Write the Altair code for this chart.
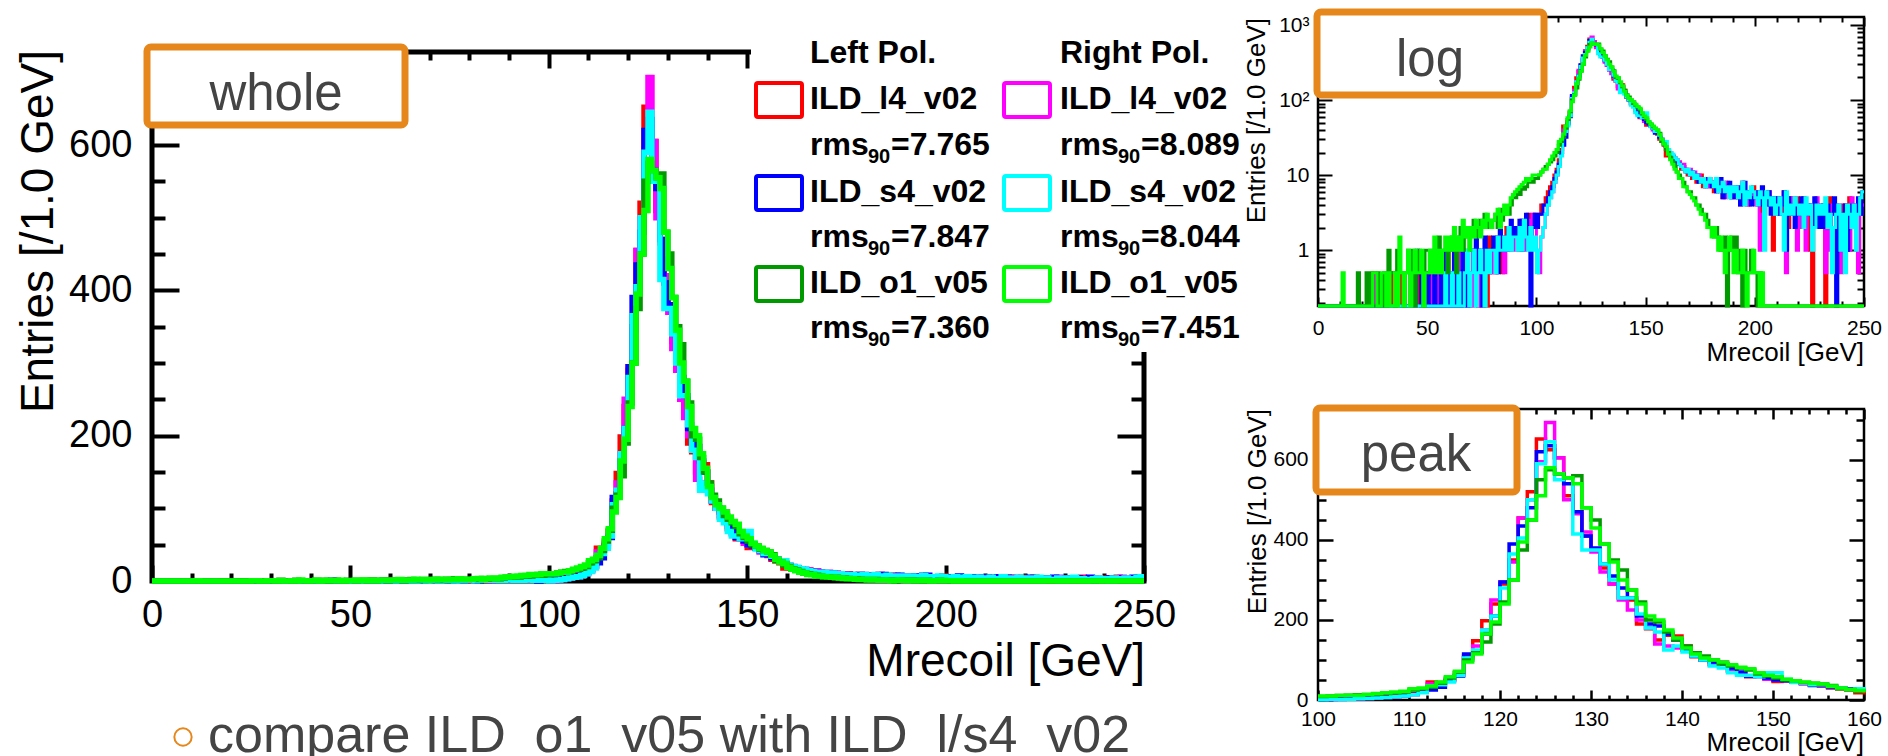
import altair as alt
import pandas as pd

# ---------------------------------------------------------------- data
# 1 GeV bins from 0 to 250 GeV; entries per bin
bin_edges = list(range(0, 251))

l4_left = [
    0, 0, 0, 0, 0, 0, 0, 0, 0, 0,
    0, 0, 0, 0, 0, 0, 0, 0, 0, 0,
    0, 0, 0, 0, 0, 0.5, 0, 0, 0, 0,
    0, 0, 0, 0, 0.5, 0, 0, 0.5, 0, 0,
    0, 0, 0, 0.5, 0, 0, 0.5, 0, 0, 0.5,
    0, 0.5, 0, 0, 0.5, 0, 0.5, 0, 0, 1,
    0, 0.5, 0, 1, 0, 0.5, 0, 1, 0.5, 0,
    0.5, 1, 0.5, 0, 1, 0.5, 1, 0, 1.5, 0.5,
    1, 0.5, 1.5, 1, 0.5, 1, 2, 1, 1.5, 2,
    1.5, 2, 1, 2.5, 2, 1.5, 3, 2, 2.5, 3,
    3, 3, 4, 4, 5, 6, 7, 8, 10, 12,
    16, 22, 45, 44, 52, 68, 110, 148, 198, 240,
    290, 350, 455, 520, 652, 625, 605, 510, 470, 410,
    375, 330, 290, 255, 250, 190, 178, 150, 162, 160,
    135, 108, 100, 88, 92, 72, 68, 58, 60, 55,
    46, 48, 46, 42, 38, 35, 30, 28, 25, 18,
    20, 18, 17, 16, 14, 15, 12, 13, 11, 10,
    11, 9, 10, 8, 9, 10, 7, 8, 9, 7,
    8, 6, 7, 9, 6, 5, 8, 6, 7, 5,
    6, 7, 5, 6, 8, 5, 4, 6, 5, 7,
    5, 4, 6, 2, 3, 5, 6, 4, 1, 3,
    4, 5, 3, 6, 1, 2, 5, 4, 3, 5,
    4, 3, 5, 2, 4, 1, 0, 3, 4, 2,
    3, 4, 0, 3, 5, 2, 1, 4, 2, 3,
    4, 2, 1, 5, 3, 2, 4, 1, 5, 4,
]

l4_right = [
    0, 0, 0, 0, 0, 0, 0, 0, 0, 0,
    0, 0, 0, 0, 0, 0, 0, 0, 0, 0,
    0, 0, 0, 0, 0, 0, 0.5, 0, 0, 0,
    0, 0, 0, 0, 0, 0, 0, 0, 0, 0,
    0, 0, 0.5, 0, 0, 0, 0, 0.5, 0, 0,
    0, 0, 0.5, 0, 0, 0.5, 0, 0, 0.5, 0,
    0.5, 0, 0, 0.5, 0, 1, 0, 0.5, 0, 0.5,
    0, 1, 0.5, 1, 0, 0.5, 1, 0.5, 1, 0.5,
    1, 0.5, 1.5, 1, 1, 0.5, 1.5, 2, 1, 2,
    1, 2, 1.5, 2.5, 1, 2, 2.5, 1.5, 3, 2,
    1, 0.5, 1.5, 2, 3, 4, 5, 6, 8, 10,
    14, 20, 40, 42, 50, 62, 105, 135, 175, 250,
    295, 345, 455, 500, 595, 693, 605, 500, 465, 420,
    370, 320, 290, 250, 225, 200, 180, 140, 135, 130,
    130, 110, 100, 90, 95, 75, 65, 60, 58, 52,
    50, 48, 45, 40, 38, 36, 32, 30, 28, 24,
    22, 20, 18, 17, 16, 15, 13, 14, 12, 11,
    12, 10, 11, 9, 10, 8, 9, 8, 7, 9,
    7, 8, 6, 9, 7, 6, 5, 8, 6, 7,
    5, 7, 6, 4, 8, 5, 6, 4, 5, 6,
    4, 6, 1, 3, 5, 4, 6, 4, 3, 5,
    4, 3, 5, 4, 0.5, 4, 3, 5, 4, 1,
    4, 2, 3, 1, 3, 4, 2, 3, 5, 2,
    3, 4, 0.5, 3, 1, 4, 3, 2, 4, 0.5,
    2, 4, 3, 1, 5, 3, 4, 0.5, 3, 4,
]

s4_left = [
    0, 0, 0, 0, 0, 0, 0, 0, 0, 0,
    0, 0, 0, 0, 0, 0, 0, 0, 0, 0,
    0, 0, 0, 0, 0, 0, 0, 0, 0, 0,
    0, 0, 0, 0, 0, 0, 0, 0, 0, 0,
    0, 0, 0, 0, 0, 1, 0.5, 0, 0, 0,
    0.5, 0, 0, 0.5, 0, 0, 0.5, 0, 1, 0,
    0.5, 0, 1, 0, 0.5, 0, 1, 0.5, 0, 1,
    1, 0.5, 1.5, 0.5, 1, 0, 1.5, 1, 0.5, 1,
    1.5, 1, 0.5, 2, 1, 1.5, 1, 2, 2.5, 1.5,
    2, 1.5, 2.5, 1, 2, 3, 1.5, 0, 2, 3,
    2, 3, 3, 4, 4, 5, 6, 7, 9, 11,
    14, 20, 25, 32, 48, 60, 115, 120, 165, 210,
    295, 390, 435, 480, 620, 635, 565, 540, 470, 410,
    380, 340, 310, 280, 255, 210, 190, 185, 165, 150,
    125, 110, 100, 95, 90, 80, 70, 60, 62, 55,
    50, 48, 45, 42, 36, 36, 32, 30, 28, 24,
    21, 19, 18, 16, 15, 14, 13, 12, 12, 11,
    10, 11, 9, 10, 8, 9, 8, 7, 9, 8,
    7, 8, 6, 7, 9, 5, 7, 6, 8, 5,
    6, 5, 7, 4, 6, 8, 5, 6, 4, 5,
    6, 5, 4, 7, 5, 4, 6, 3, 5, 4,
    5, 3, 4, 6, 1, 5, 3, 4, 2, 4,
    3, 5, 2, 4, 3, 4, 2, 5, 3, 2,
    4, 2, 3, 4, 2, 3, 5, 0, 3, 2,
    3, 4, 1, 3, 4, 2, 3, 5, 3, 6,
]

s4_right = [
    0, 0, 0, 0, 0, 0, 0, 0, 0, 0,
    0, 0, 0, 0, 0, 0, 0, 0, 0, 0,
    0, 0, 0, 0, 0, 0, 0, 0, 0, 0,
    0, 0, 0, 0, 0, 0, 0, 0, 0, 0,
    0, 0, 0, 0, 0, 0, 0, 0, 0, 0,
    0, 0, 0, 0, 0, 0, 0, 0, 0.5, 0,
    0, 0.5, 0, 0, 0.5, 0, 0, 0.5, 1, 0,
    0.5, 1, 0, 0.5, 1, 0.5, 0, 1, 0.5, 1,
    1, 0.5, 1.5, 1, 1, 1.5, 1, 2, 1, 1.5,
    1.5, 1, 2, 1, 2.5, 1.5, 1, 2, 1, 1.5,
    0.5, 1, 1.5, 2, 3, 4, 5, 6, 8, 10,
    13, 18, 35, 38, 45, 62, 105, 125, 175, 210,
    280, 365, 405, 500, 590, 645, 550, 555, 415, 375,
    375, 340, 300, 255, 255, 215, 180, 170, 125, 135,
    120, 110, 100, 85, 80, 68, 62, 62, 58, 68,
    68, 52, 44, 42, 38, 38, 34, 30, 26, 28,
    22, 20, 19, 17, 16, 14, 13, 12, 11, 12,
    10, 11, 9, 10, 9, 8, 9, 7, 8, 9,
    8, 7, 9, 6, 7, 8, 6, 7, 5, 7,
    6, 7, 5, 6, 8, 4, 6, 5, 7, 6,
    5, 4, 6, 5, 1, 6, 5, 4, 5, 3,
    4, 5, 3, 1, 6, 3, 4, 3, 5, 4,
    3, 4, 2, 5, 3, 4, 1, 2, 4, 3,
    4, 3, 5, 2, 3, 0.5, 2, 3, 4, 1,
    3, 0.5, 4, 3, 2, 4, 1, 3, 5, 6,
]

o1_left = [
    0, 0, 0, 0, 0, 0, 0, 0, 0, 0,
    0, 0, 0, 0, 0, 0, 0, 0, 0.5, 0,
    0, 0, 0.5, 0, 0.5, 0, 0, 0.5, 0, 0,
    0.5, 0, 1, 0.5, 0.5, 0, 1, 0.5, 0.5, 0,
    0.5, 1, 0.5, 1, 0, 0.5, 1, 0.5, 0, 1,
    1, 0.5, 1, 1, 0.5, 1.5, 0.5, 1, 1, 0.5,
    1, 1.5, 1, 0.5, 1.5, 2, 1, 1.5, 2, 1.5,
    2, 2.5, 1.5, 2, 2.5, 2, 3, 2, 2.5, 2,
    2.5, 3, 2, 3.5, 2.5, 3, 3.5, 3, 4, 5,
    5, 6, 5.5, 7, 6.5, 7, 8, 9, 8, 9,
    9, 10, 11, 12, 13, 14, 15, 16, 18, 20,
    25, 28, 32, 42, 55, 70, 100, 118, 145, 190,
    245, 300, 375, 450, 550, 575, 565, 555, 560, 480,
    450, 390, 350, 325, 275, 245, 200, 195, 170, 150,
    135, 118, 110, 100, 90, 85, 80, 75, 65, 60,
    55, 50, 48, 44, 42, 40, 36, 28, 26, 22,
    20, 17, 15, 13, 11, 10, 9, 8, 7, 6,
    6, 5, 5, 4, 4, 3.5, 3, 3, 2.5, 2,
    2, 1.5, 2, 1.5, 1, 1, 1.5, 0, 1, 1.5,
    1, 1.5, 0.5, 1, 0, 1, 0.5, 0.5, 1, 0.5,
    0.5, 0, 0.5, 0, 0, 0, 0, 0, 0, 0,
    0, 0, 0, 0, 0, 0, 0, 0, 0, 0,
    0, 0, 0, 0, 0, 0, 0, 0, 0, 0,
    0, 0, 0, 0, 0, 0, 0, 0, 0, 0,
    0, 0, 0, 0, 0, 0, 0, 0, 0, 0,
]

o1_right = [
    0, 0, 0, 0, 0, 0, 0, 0, 0, 0,
    0, 0.5, 0, 0, 0, 0, 0, 0, 0, 0,
    0, 0, 0, 0, 0, 0.5, 0.5, 0, 0, 0.5,
    0.5, 0, 0.5, 0, 0, 0.5, 0, 1.5, 0.5, 0,
    0.5, 1, 0, 0.5, 1, 0.5, 0.5, 1, 0, 0.5,
    0.5, 1, 0.5, 1.5, 0.5, 1, 0.5, 1, 1.5, 1,
    1.5, 1, 2, 1, 1.5, 1, 2.5, 1.5, 2, 1,
    2, 1.5, 2.5, 2, 1.5, 2.5, 2, 3, 2.5, 2,
    2.5, 3, 3.5, 2, 3, 4, 3, 4, 5, 5.5,
    6, 6.5, 7, 7.5, 8, 9, 8.5, 9, 10, 10,
    10, 10, 11, 12, 12, 14, 16, 18, 20, 22,
    28, 30, 35, 45, 58, 72, 95, 115, 165, 195,
    240, 300, 395, 450, 510, 580, 565, 555, 540, 480,
    430, 390, 345, 300, 275, 240, 210, 200, 175, 155,
    130, 115, 105, 100, 95, 88, 82, 78, 68, 62,
    58, 52, 48, 45, 42, 40, 35, 30, 26, 24,
    19, 16, 14, 12, 11, 9, 9, 7, 7, 6,
    5.5, 5, 4.5, 4, 3.5, 3, 3, 2.5, 2, 2,
    1.5, 2, 1.5, 1, 1.5, 1, 0.5, 1, 1.5, 1,
    0.5, 1, 0.5, 0.5, 1, 0.5, 0, 0.5, 0.5, 1,
    0.5, 0.5, 0, 0.5, 0, 0, 0, 0, 0, 0,
    0, 0, 0, 0, 0, 0, 0, 0, 0, 0,
    0, 0, 0, 0, 0, 0, 0, 0, 0, 0,
    0, 0, 0, 0, 0, 0, 0, 0, 0, 0,
    0, 0, 0, 0, 0, 0, 0, 0, 0, 0,
]

# legend text
legend_names = ["ILD_l4_v02", "ILD_s4_v02", "ILD_o1_v05"]
rms_left = ["7.765", "7.847", "7.360"]
rms_right = ["8.089", "8.044", "7.451"]

# axis tick values
main_x_major = [0, 50, 100, 150, 200, 250]
main_x_minor = [v for v in range(0, 251, 10) if v % 50]
main_y_major = [0, 200, 400, 600]
main_y_minor = [v for v in range(0, 729, 50) if v % 200]
peak_x_major = [100, 110, 120, 130, 140, 150, 160]
peak_x_minor = [v for v in range(100, 161, 2) if v % 10]
log_y_major = [1, 10, 100, 1000]
log_y_minor = [m * d for d in (0.1, 1, 10, 100) for m in range(2, 10)]

# ---------------------------------------------------------------- style / layout
W, H = 1888, 756
SANS = "Liberation Sans"
ORANGE = "#E6871C"
GRAY = "#444444"

SERIES = [  # draw order
    ("l4_left", l4_left, "#ff0000"),
    ("l4_right", l4_right, "#ff00ff"),
    ("s4_left", s4_left, "#0000ff"),
    ("s4_right", s4_right, "#00ffff"),
    ("o1_left", o1_left, "#009900"),
    ("o1_right", o1_right, "#00ff00"),
]
LEG_COLORS_LEFT = ["#ff0000", "#0000ff", "#009900"]
LEG_COLORS_RIGHT = ["#ff00ff", "#00ffff", "#00ff00"]

MAIN = dict(px=(152, 1144), py=(581, 52), xdom=[0, 250], ydom=[0, 728], ytype="linear",
            lw=5.5, fw=5, tw=4, tx=(16, 8), ty=(27, 13), fs=38, xpad=15, ypad=20,
            xmaj=main_x_major, xmin=main_x_minor, ymaj=main_y_major, ymin=main_y_minor)
LOG = dict(px=(1318, 1864), py=(306, 17), xdom=[0, 250], ydom=[0.18, 1280], ytype="log",
           lw=3, fw=2.5, tw=2, tx=(9, 5), ty=(14, 7), fs=21, xpad=11, ypad=9,
           xmaj=main_x_major, xmin=main_x_minor, ymaj=log_y_major, ymin=log_y_minor,
           ylabel="datum.value >= 1000 ? '10³' : datum.value >= 100 ? '10²' : datum.value >= 10 ? '10' : '1'")
PEAK = dict(px=(1318, 1864), py=(700, 409), xdom=[100, 160], ydom=[0, 727], ytype="linear",
            lw=3.5, fw=2.5, tw=2.5, tx=(10, 5), ty=(15, 8), fs=21, xpad=8, ypad=10,
            xmaj=peak_x_major, xmin=peak_x_minor, ymaj=main_y_major, ymin=main_y_minor)

ONE = alt.Data(values=[{"a": 1}])


def txt(x, y, s, size, weight="normal", align="left", color="black", angle=0,
        baseline="alphabetic", font=SANS):
    kw = dict(text=s, fontSize=size, fontWeight=weight, align=align,
              baseline=baseline, color=color, font=font)
    if angle:
        kw["angle"] = angle
    return alt.Chart(ONE).mark_text(**kw).encode(x=alt.value(x), y=alt.value(y))


def box(x0, x1, y0, y1, stroke=None, sw=0, fill="white", r=0):
    kw = dict(fill=fill, cornerRadius=r)
    if stroke:
        kw.update(stroke=stroke, strokeWidth=sw)
    return alt.Chart(ONE).mark_rect(**kw).encode(
        x=alt.value(x0), x2=alt.value(x1), y=alt.value(y0), y2=alt.value(y1))


def axis(orient, values, tsize, offset, tw, labels=False, fs=20, pad=8, expr=None):
    kw = dict(orient=orient, values=values, tickSize=tsize, offset=offset,
              domain=False, grid=False, ticks=True, tickColor="black",
              tickWidth=tw, labels=labels)
    if labels:
        kw.update(labelFont=SANS, labelFontSize=fs, labelColor="black",
                  labelPadding=pad, labelFlush=False, labelOverlap=False,
                  labelBound=False)
        if expr:
            kw["labelExpr"] = expr
    return alt.Axis(**kw)


def panel(P, xlo, xhi):
    (xl, xr), (yb, yt) = P["px"], P["py"]
    xs = alt.Scale(domain=P["xdom"], range=[xl, xr], nice=False, zero=False)
    if P["ytype"] == "log":
        ys = alt.Scale(type="log", domain=P["ydom"], range=[yb, yt], nice=False)
    else:
        ys = alt.Scale(domain=P["ydom"], range=[yb, yt], nice=False, zero=False)
    floor = P["ydom"][0]
    frame = pd.DataFrame({"x0": [P["xdom"][0]], "x1": [P["xdom"][1]],
                          "y0": [P["ydom"][0]], "y1": [P["ydom"][1]]})
    layers = []
    # frame
    layers.append(alt.Chart(frame).mark_rect(fillOpacity=0, stroke="black",
                                              strokeWidth=P["fw"]).encode(
        x=alt.X("x0:Q", scale=xs, axis=None), x2="x1:Q",
        y=alt.Y("y0:Q", scale=ys, axis=None), y2="y1:Q"))
    # histograms
    for name, vals, col in SERIES:
        rows = [{"x": bin_edges[i], "y": vals[i]} for i in range(len(vals))
                if xlo <= bin_edges[i] <= xhi]
        if bin_edges[-1] <= xhi:
            rows.append({"x": bin_edges[-1], "y": vals[-1]})
        df = pd.DataFrame(rows)
        layers.append(alt.Chart(df).transform_calculate(
            yv=f"max(datum.y, {floor})").mark_line(
            interpolate="step-after", strokeWidth=P["lw"], color=col,
            strokeJoin="miter").encode(
            x=alt.X("x:Q", scale=xs, axis=None),
            y=alt.Y("yv:Q", scale=ys, axis=None)))
    # axes (ticks drawn inward)
    txM, txm = P["tx"]
    tyM, tym = P["ty"]
    tw = P["tw"]
    specs = [
        (axis("bottom", P["xmaj"], txM, (yb - txM) - H, tw, True, P["fs"], P["xpad"]),
         axis("left", P["ymaj"], tyM, -(xl + tyM), tw, True, P["fs"], P["ypad"], P.get("ylabel"))),
        (axis("bottom", P["xmin"], txm, (yb - txm) - H, tw),
         axis("left", P["ymin"], tym, -(xl + tym), tw)),
        (axis("top", P["xmaj"], txM, -(yt + txM), tw),
         axis("right", P["ymaj"], tyM, (xr - tyM) - W, tw)),
        (axis("top", P["xmin"], txm, -(yt + txm), tw),
         axis("right", P["ymin"], tym, (xr - tym) - W, tw)),
    ]
    for ax_x, ax_y in specs:
        layers.append(alt.Chart(frame).mark_point(opacity=0).encode(
            x=alt.X("x0:Q", scale=xs, axis=ax_x, title=None),
            y=alt.Y("y0:Q", scale=ys, axis=ax_y, title=None)))
    return layers


layers = []
# ---- main panel
layers += panel(MAIN, 0, 250)
# ---- legend
layers.append(box(751, 1245, 0, 352))
layers.append(txt(810, 63, "Left Pol.", 32, "bold"))
layers.append(txt(1060, 63, "Right Pol.", 32, "bold"))
name_base = [109, 202, 293]
rms_base = [155, 247, 338]
for col_x, box_x, colors, rms in ((810, 756, LEG_COLORS_LEFT, rms_left),
                                  (1060, 1004, LEG_COLORS_RIGHT, rms_right)):
    for i in range(3):
        nb, rb = name_base[i], rms_base[i]
        layers.append(box(box_x, box_x + 46, nb - 26, nb + 8, colors[i], 4, "white", 2))
        layers.append(txt(col_x, nb, legend_names[i], 32, "bold"))
        layers.append(txt(col_x, rb, "rms", 32, "bold"))
        layers.append(txt(col_x + 58, rb + 8, "90", 20, "bold"))
        layers.append(txt(col_x + 81, rb, "=" + rms[i], 32, "bold"))
# ---- log & peak panels
layers += panel(LOG, 0, 250)
layers += panel(PEAK, 100, 160)
# ---- axis titles
layers.append(txt(53, 50, "Entries [/1.0 GeV]", 46, align="right", angle=270))
layers.append(txt(1145, 676, "Mrecoil [GeV]", 46, align="right"))
layers.append(txt(1265, 18, "Entries [/1.0 GeV]", 26, align="right", angle=270))
layers.append(txt(1864, 361, "Mrecoil [GeV]", 26, align="right"))
layers.append(txt(1266, 409, "Entries [/1.0 GeV]", 26, align="right", angle=270))
layers.append(txt(1864, 751, "Mrecoil [GeV]", 26, align="right"))
# ---- orange tag boxes
layers.append(box(147, 405, 47, 125, ORANGE, 7, "white", 4))
layers.append(txt(276, 110, "whole", 51, color=GRAY, align="center"))
layers.append(box(1317, 1544, 12, 95, ORANGE, 7, "white", 4))
layers.append(txt(1430, 76, "log", 51, color=GRAY, align="center"))
layers.append(box(1316, 1517, 408, 492, ORANGE, 7, "white", 4))
layers.append(txt(1416, 471, "peak", 51, color=GRAY, align="center"))
# ---- bottom caption
layers.append(alt.Chart(ONE).mark_point(shape="circle", filled=False, size=300,
                                        stroke=ORANGE, strokeWidth=2,
                                        opacity=1).encode(
    x=alt.value(183), y=alt.value(737)))
layers.append(txt(208, 752, "compare ILD_o1_v05 with ILD_l/s4_v02", 52, color=GRAY))

chart = alt.layer(*layers).resolve_scale(
    x="independent", y="independent").resolve_axis(
    x="independent", y="independent").properties(
    width=W, height=H, autosize=alt.AutoSizeParams(type="none"), padding=0,
    background="white").configure_view(strokeWidth=0)

chart.save("out.html", embed_options={"renderer": "svg", "actions": False})
